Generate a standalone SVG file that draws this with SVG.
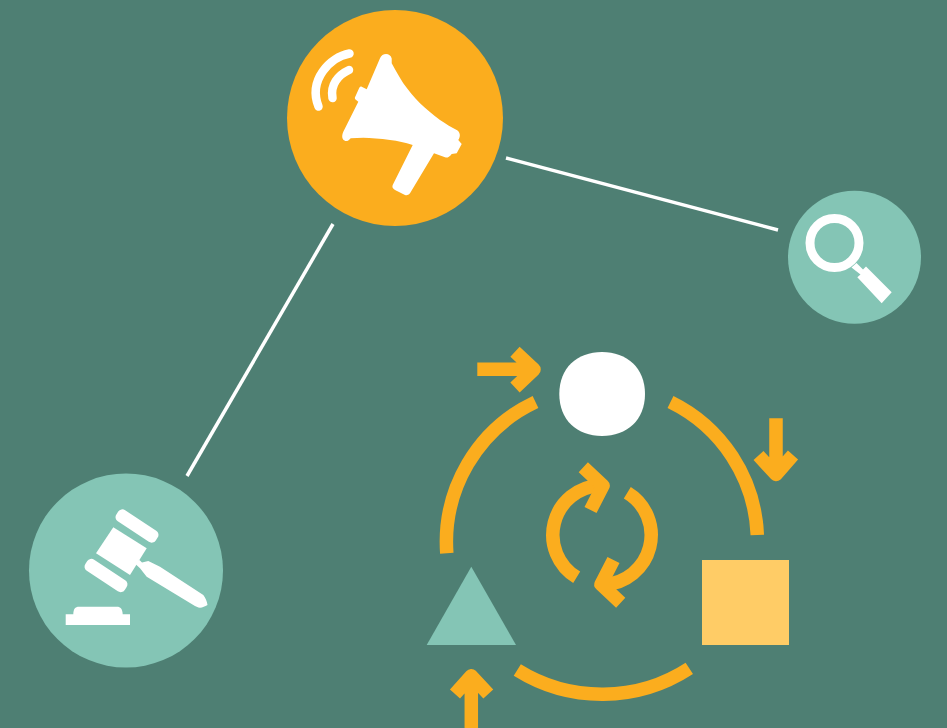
<svg xmlns="http://www.w3.org/2000/svg" width="947" height="728" viewBox="0 0 947 728">
<style>
.w{fill:#fff}
.o{fill:none;stroke:#FBAD1E;stroke-width:13.500;stroke-linejoin:round}
.l{fill:none;stroke:#fff;stroke-width:3.500}
.t{fill:#84C5B5}
.wl{fill:none;stroke:#fff;stroke-linecap:round}
</style>
<rect width="947" height="728" fill="#4E7F73"/>
<g id="connectors">
<path class="l" d="M506 158L778 230"/>
<path class="l" d="M333 224L187 476"/>
</g>
<g id="megaphone">
<circle cx="395" cy="118" r="108" fill="#FBAD1E"/>
<path class="w" d="M380 58.300C382 52.500 390.500 52.500 391.700 58.500L391.700 63.300C396 71 400 78 403.300 83.300C408 90 414 97 420 103.300C426 109 433 115 440 120C446 124 451 127 456.700 130C460 132 461 136 458.300 140L461.700 144L456.700 153.300L451.700 154C449 157.500 447 158 445 157.300L434 153.300L410 193.300C408 195.500 406.500 195.500 405 195L395 190C392.500 188.500 392 187 392.700 185L412.700 145C405 142.500 398 141 390 140C380 138.500 371 138 363.300 137.700L350.700 138.300C348 141.500 346 141.500 344.500 140.500C342 139 341.500 136 343.300 131.700L358.300 101.700L355.500 99.500C354.700 98.500 354.800 98 355 97.300L359.300 87.700C360 86.500 361 86.300 361.700 86.700L366.700 89.300Z"/>
<path class="wl" stroke-width="8.500" d="M349.500 53.500C330 57 308 80 318.500 106.500"/>
<path class="wl" stroke-width="8.500" d="M349 70C338 75 330 85 332.500 98"/>
</g>
<g id="search">
<circle cx="854.500" cy="257.200" r="66.500" class="t"/>
<circle cx="834.500" cy="243" r="24.500" fill="none" stroke="#fff" stroke-width="9"/>
<path class="w" d="M851.500 267.500L856.500 263L863 269.500L866 266.500L891.700 292.300L881.700 303.300L857.300 277.300L860.500 274.500Z"/>
</g>
<g id="gavel">
<circle cx="126" cy="570.500" r="97" class="t"/>
<rect class="w" x="-23.600" y="-6.700" width="47.200" height="13.400" rx="5" transform="translate(137 526) rotate(33.400)"/>
<rect class="w" x="-23.600" y="-6.700" width="47.200" height="13.400" rx="5" transform="translate(106 575.500) rotate(33.400)"/>
<path class="w" d="M113.300 527.300L146.700 548.300L130 575L96 553.300Z"/>
<path class="w" d="M135 563.500L139.500 560L142 562.500L148.300 561L160 566.700L203.300 595C205.500 598 207 601 207.500 605C205 606.500 202.500 607.500 200 607.700C198 607.500 195.500 606.500 193.300 605L146.700 576.700L140 568.300L136.500 565Z"/>
<path class="w" d="M65.700 614.300H73.300C73.500 609 75 606.700 79 606.700H117C120.500 606.700 122.500 609 122.700 614.300H130V625H65.700Z"/>
</g>
<g id="circle-node">
<path class="w" d="M602 352C627 352 645 368 645 394C645 420 627 436 602 436C577 436 559.300 420 559.300 394C559.300 368 577 352 602 352Z"/>
</g>
<g id="square-node">
<rect x="702" y="560" width="87" height="85" fill="#FFCC66"/>
</g>
<g id="triangle-node">
<path class="t" d="M471.300 566.700L516 645H426.700Z"/>
</g>
<g id="flow-connectors">
<path class="o" d="M535.500 402A155 155 0 0 0 446.800 553.300"/>
<path class="o" d="M670.500 402A155 155 0 0 1 757.300 535"/>
<path class="o" d="M517.300 670A160 160 0 0 0 689.300 668.300"/>
<path class="o" d="M477.300 369.300H534M515 351.700L534 369.500L515 387.500"/>
<path class="o" d="M776 418.300V474.500M758.500 455.500L776 474.500L793 455"/>
<path class="o" d="M471.300 728V675.800M455 694L471.300 675.800L488.300 694"/>
<path class="o" d="M576.700 577.300A49.500 49.500 0 0 1 600 485.500"/>
<path class="o" d="M583.300 467.300L603 485.700L590.500 510"/>
<path class="o" d="M627.300 492.700A49.500 49.500 0 0 1 604 584.500"/>
<path class="o" d="M620.700 602.700L601 584.300L613.500 560"/>
</g>
</svg>
